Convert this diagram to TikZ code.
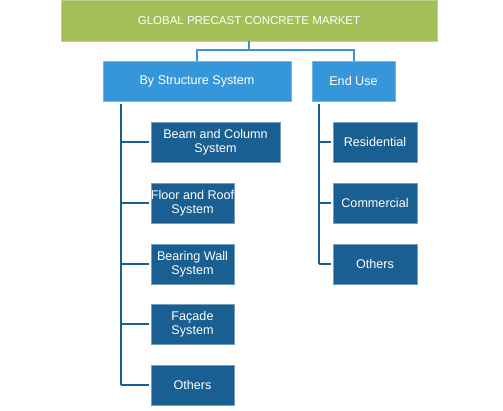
\documentclass[tikz,border=0pt]{standalone}
\usepackage{fontspec}
\setmainfont{Liberation Sans}
\definecolor{topgreen}{HTML}{A3BF57}
\definecolor{midblue}{HTML}{3597DA}
\definecolor{darkblue}{HTML}{1A5F91}
\begin{document}
\begin{tikzpicture}[x=1pt,y=-1pt,
  topbox/.style={fill=topgreen,draw=topgreen!70!white,line width=0.6pt,text=white,minimum width=376pt,minimum height=41pt,inner sep=0pt,font=\fontsize{11.5}{13}\selectfont},
  catbox/.style={fill=midblue,draw=midblue!70!white,line width=0.6pt,text=white,minimum height=40pt,inner sep=0pt,font=\fontsize{12.6}{14}\selectfont},
  leafbox/.style={fill=darkblue,draw=darkblue!60!white,line width=0.6pt,text=white,minimum height=40pt,inner sep=0pt,align=center,font=\fontsize{12.6}{14}\selectfont},
  lightline/.style={draw=midblue,line width=2pt},
  darkline/.style={draw=darkblue,line width=2pt}]
\useasboundingbox (0,0) rectangle (503,410);
\node[topbox] (top) at (249,20.5) {GLOBAL PRECAST CONCRETE MARKET};
\node[catbox,minimum width=188pt] (struct) at (197,81) {By Structure System};
\node[catbox,minimum width=83pt] (enduse) at (353.5,81) {End Use};
\node[leafbox,minimum width=129pt] (beam) at (215.5,142) {Beam and Column\\System};
\node[leafbox,minimum width=83pt] (floor) at (192.5,203) {Floor and Roof\\System};
\node[leafbox,minimum width=83pt] (bearing) at (192.5,264) {Bearing Wall\\System};
\node[leafbox,minimum width=83pt] (facade) at (192.5,324) {Façade\\System};
\node[leafbox,minimum width=83pt] (others1) at (192.5,385) {Others};
\node[leafbox,minimum width=84pt] (resid) at (375,142) {Residential};
\node[leafbox,minimum width=84pt] (comm) at (375,203) {Commercial};
\node[leafbox,minimum width=84pt] (others2) at (375,264) {Others};
% top connectors
\coordinate (split) at (249,50);
\draw[lightline] (top.south) -- (split);
\draw[lightline] (split) -| (struct.north);
\draw[lightline] (split) -| (enduse.north);
% left trunk
\coordinate (ltop) at (121,104);
\coordinate (lbot) at (121,385);
\draw[darkline] (ltop) -- (lbot);
\foreach \n in {beam,floor,bearing,facade,others1}
  \draw[darkline,shorten >=2pt] (ltop |- \n.west) -- (\n.west);
% right trunk
\coordinate (rtop) at (319,104);
\coordinate (rbot) at (319,264);
\draw[darkline] (rtop) -- (rbot);
\foreach \n in {resid,comm,others2}
  \draw[darkline,shorten >=2pt] (rtop |- \n.west) -- (\n.west);
\end{tikzpicture}
\end{document}
